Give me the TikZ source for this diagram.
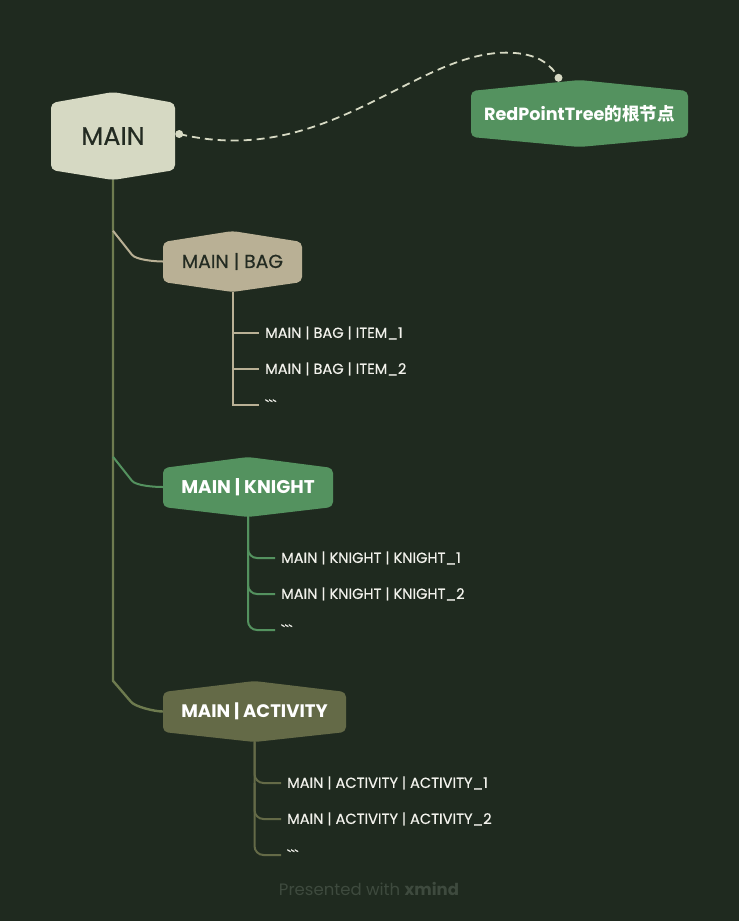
\documentclass[tikz,border=0pt]{standalone}
\usepackage{fontspec}
\setmainfont{Poppins}
\newfontfamily\medfont{Poppins}[FakeBold=0.5]
\newfontfamily\cjk{Noto Sans CJK SC}
\usetikzlibrary{calc}
\definecolor{bg}{HTML}{1F2A1F}
\definecolor{mainc}{HTML}{D6D9C3}
\definecolor{bagc}{HTML}{B9B095}
\definecolor{grnc}{HTML}{54925F}
\definecolor{actc}{HTML}{646A47}
\definecolor{trunkc}{HTML}{6E7B4F}
\definecolor{darktxt}{HTML}{232B22}
\definecolor{lighttxt}{HTML}{F2F2EC}
\definecolor{footc}{HTML}{3E4A3E}
\newcommand{\bt}{\symbol{96}\symbol{96}\symbol{96}}
\tikzset{
  hexa/.style 2 args={inner sep=0pt, minimum width=#1, minimum height=#2},
  hexfill/.style={path picture={
    \fill[#1,rounded corners=5pt]
      (path picture bounding box.north)
      -- ([yshift=-11pt]path picture bounding box.north east)
      -- ([yshift=10pt]path picture bounding box.south east)
      -- (path picture bounding box.south)
      -- ([yshift=10pt]path picture bounding box.south west)
      -- ([yshift=-11pt]path picture bounding box.north west)
      -- cycle;}},
  leaf/.style={anchor=west, inner xsep=6pt, inner ysep=2pt, text=lighttxt, font=\medfont\fontsize{14.6}{17}\selectfont},
  link/.style={line width=2pt},
}
\begin{document}
\begin{tikzpicture}[x=1pt,y=-1pt]
\fill[bg] (0,0) rectangle (739,921);
\useasboundingbox (0,0) rectangle (739,921);

% top nodes
\node[hexa={124pt}{88pt}, hexfill=mainc, text=darktxt, font=\medfont\fontsize{25.5}{30}\selectfont] (main) at (113,136) {MAIN};
\node[hexa={217pt}{67pt}, hexfill=grnc, text=white, font=\bfseries\fontsize{17.6}{21}\selectfont] (red) at (579.5,113.5) {RedPointTree{\cjk\bfseries 的根节点}};

% branches
\node[hexa={139pt}{61pt}, hexfill=bagc, text=darktxt, font=\medfont\fontsize{18.8}{22}\selectfont] (bag) at (232.5,261.5) {MAIN | BAG};
\node[hexa={170pt}{60pt}, hexfill=grnc, text=white, font=\bfseries\fontsize{18.4}{22}\selectfont] (knight) at (248,487) {MAIN | KNIGHT};
\node[hexa={183pt}{61pt}, hexfill=actc, text=white, font=\bfseries\fontsize{18.1}{22}\selectfont] (activity) at (254.5,711.5) {MAIN | ACTIVITY};

% leaves
\node[leaf] (b1) at (259,333) {MAIN | BAG | ITEM\_1};
\node[leaf] (b2) at (259,369) {MAIN | BAG | ITEM\_2};
\node[leaf] (b3) at (259,405) {\bt};
\node[leaf] (k1) at (275,558) {MAIN | KNIGHT | KNIGHT\_1};
\node[leaf] (k2) at (275,594) {MAIN | KNIGHT | KNIGHT\_2};
\node[leaf] (k3) at (275,630) {\bt};
\node[leaf] (a1) at (281,783) {MAIN | ACTIVITY | ACTIVITY\_1};
\node[leaf] (a2) at (281,819) {MAIN | ACTIVITY | ACTIVITY\_2};
\node[leaf] (a3) at (281,855) {\bt};

% trunk
\draw[link, trunkc, line width=2.4pt] (main.south) -- ($(main.south |- activity.north)$)
  -- ++(18,21) .. controls +(4,5) and +(-8,0) .. (activity.west);
\draw[link, bagc] (main.south |- bag.north) -- ++(19,24)
  .. controls +(4,5) and +(-8,0) .. (bag.west);
\draw[link, grnc] (main.south |- knight.north) -- ++(19,24)
  .. controls +(4,5) and +(-8,0) .. (knight.west);

% bag leaves
\draw[link, bagc] (bag.south) -- (bag.south |- b3.west) -- (b3.west);
\draw[link, bagc] (bag.south |- b1.west) -- (b1.west);
\draw[link, bagc] (bag.south |- b2.west) -- (b2.west);

% knight leaves
\draw[link, grnc, rounded corners=9pt] (knight.south) |- (k3.west);
\draw[link, grnc, rounded corners=9pt] ($(knight.south)+(0,-20)$) |- (k1.west);
\draw[link, grnc, rounded corners=9pt] ($(k1.west -| knight.south)$) |- (k2.west);

% activity leaves
\draw[link, actc, rounded corners=9pt] (activity.south) |- (a3.west);
\draw[link, actc, rounded corners=9pt] ($(activity.south)+(0,-20)$) |- (a1.west);
\draw[link, actc, rounded corners=9pt] ($(a1.west -| activity.south)$) |- (a2.west);

% dashed relation
\coordinate (s) at ($(main.east)+(4,-2)$);
\coordinate (e) at ($(red.north)+(-21,-2)$);
\draw[mainc, line width=1.8pt, dash pattern=on 8pt off 5pt]
  (s) .. controls (330,170) and (420,45) .. (515,53)
      .. controls (540,55) and (552,66) .. (e);
\fill[mainc] (s) circle (4pt);
\fill[mainc] (e) circle (4pt);

% footer
\node[text=footc, font=\fontsize{16.5}{19}\selectfont] (foot) at (369,889) {Presented with \textbf{xmind}};
\end{tikzpicture}
\end{document}
